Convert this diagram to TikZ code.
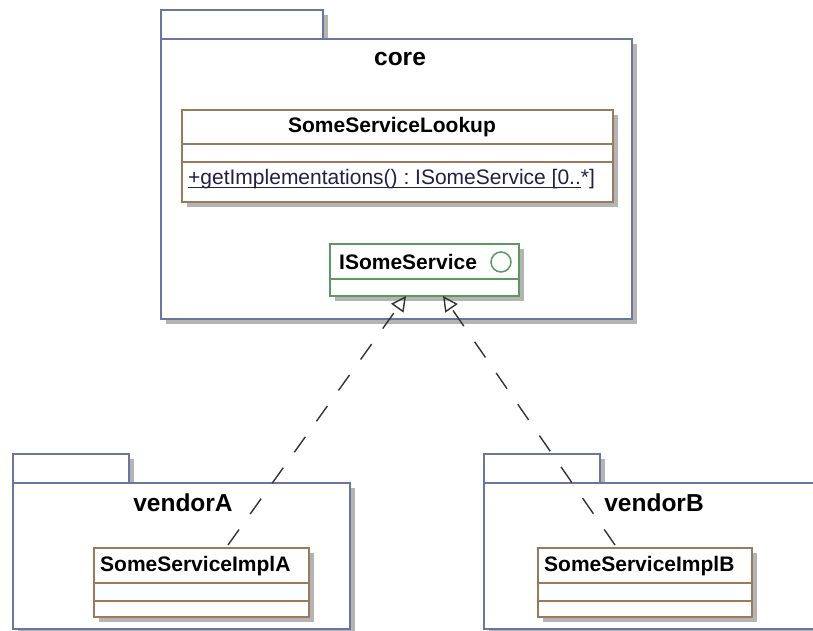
\documentclass[tikz,border=0pt]{standalone}
\usepackage{fontspec}
\setmainfont{Liberation Sans}
\usetikzlibrary{shadows,arrows.meta}

\definecolor{pkgline}{HTML}{6A76A0}
\definecolor{clsline}{HTML}{9A7A5C}
\definecolor{ifcline}{HTML}{5A9A60}
\definecolor{opnavy}{HTML}{20204A}
\definecolor{shade}{HTML}{B4B4B4}

% thick underline for static operations
\newcommand\staticul[1]{\setbox0\hbox{#1}\rlap{\raisebox{-3.5pt}{\rule{\wd0}{1.3pt}}}\box0}

\tikzset{
  boxshadow/.style={drop shadow={shadow xshift=5pt,shadow yshift=-5pt,fill=shade,opacity=1}},
  pkgpart/.style={draw=pkgline,line width=1.5pt,fill=white,boxshadow,
    anchor=north west,inner sep=0pt,outer sep=0pt},
  clsbox/.style={draw=clsline,line width=1.5pt,fill=white,boxshadow,
    anchor=north west,inner sep=0pt,outer sep=0pt},
  ifcbox/.style={draw=ifcline,line width=1.5pt,fill=white,boxshadow,
    anchor=north west,inner sep=0pt,outer sep=0pt},
  pkgname/.style={font=\fontsize{24.5}{28}\selectfont\bfseries,inner sep=0pt},
  clsname/.style={font=\fontsize{21}{25}\selectfont\bfseries,inner sep=0pt},
  optext/.style={font=\fontsize{21}{25}\selectfont\frenchspacing,text=opnavy,inner sep=0pt,anchor=west},
  realize/.style={draw=black!80,line width=1.4pt,dash pattern=on 19pt off 19pt,
    -{Triangle[open,length=15pt,width=15pt,line width=1.4pt]}},
}

\begin{document}
\begin{tikzpicture}[x=1pt,y=-1pt]
\useasboundingbox (0,0) rectangle (813,631);

% ---------- package core ----------
\node[pkgpart,minimum width=162,minimum height=29] (coretab) at (161,10) {};
\node[pkgpart,minimum width=471,minimum height=280] (core) at (161,39) {};
\node[pkgname] (corename) at (400,59) {core};

% class SomeServiceLookup
\node[clsbox,minimum width=431,minimum height=92] (lookup) at (182,110) {};
\draw[clsline,line width=1.5pt] (lookup.west |- 0,144) -- (lookup.east |- 0,144)
                                (lookup.west |- 0,162) -- (lookup.east |- 0,162);
\node[clsname] (lookupname) at (392,127) {SomeServiceLookup};
\node[optext] (lookupop) at (188,179)
  {\staticul{+getImplementations() : ISomeService [0..}*]};

% interface ISomeService
\node[ifcbox,minimum width=189,minimum height=52] (iservice) at (330,244) {};
\draw[ifcline,line width=1.5pt] (iservice.west |- 0,279) -- (iservice.east |- 0,279);
\node[clsname,anchor=west] (iservicename) at (339,262) {ISomeService};
\node[draw=ifcline,line width=1.5pt,circle,minimum size=20,inner sep=0pt] (iserviceicon) at (501,262) {};

% ---------- package vendorA ----------
\node[pkgpart,minimum width=116,minimum height=29] (vatab) at (13,454) {};
\node[pkgpart,minimum width=337,minimum height=146] (vendora) at (13,483) {};
\node[pkgname] (vendoraname) at (183,503) {vendorA};

\node[clsbox,minimum width=215,minimum height=69] (impla) at (94,548) {};
\draw[clsline,line width=1.5pt] (impla.west |- 0,583) -- (impla.east |- 0,583)
                                (impla.west |- 0,601) -- (impla.east |- 0,601);
\node[clsname,anchor=west] (implaname) at (100,566) {SomeServiceImplA};

% ---------- package vendorB ----------
\node[pkgpart,minimum width=116,minimum height=29] (vbtab) at (484,454) {};
\node[pkgpart,minimum width=332,minimum height=146] (vendorb) at (484,483) {};
\node[pkgname] (vendorbname) at (654,503) {vendorB};

\node[clsbox,minimum width=214,minimum height=69] (implb) at (538,548) {};
\draw[clsline,line width=1.5pt] (implb.west |- 0,583) -- (implb.east |- 0,583)
                                (implb.west |- 0,601) -- (implb.east |- 0,601);
\node[clsname,anchor=west] (implbname) at (544,566) {SomeServiceImplB};

% ---------- realizations ----------
\coordinate (reala) at (228,545);
\coordinate (realb) at (615,545);
\coordinate (tipa) at (406,296);
\coordinate (tipb) at (443,296);
\draw[realize] (reala) -- (tipa);
\draw[realize] (realb) -- (tipb);

\end{tikzpicture}
\end{document}
